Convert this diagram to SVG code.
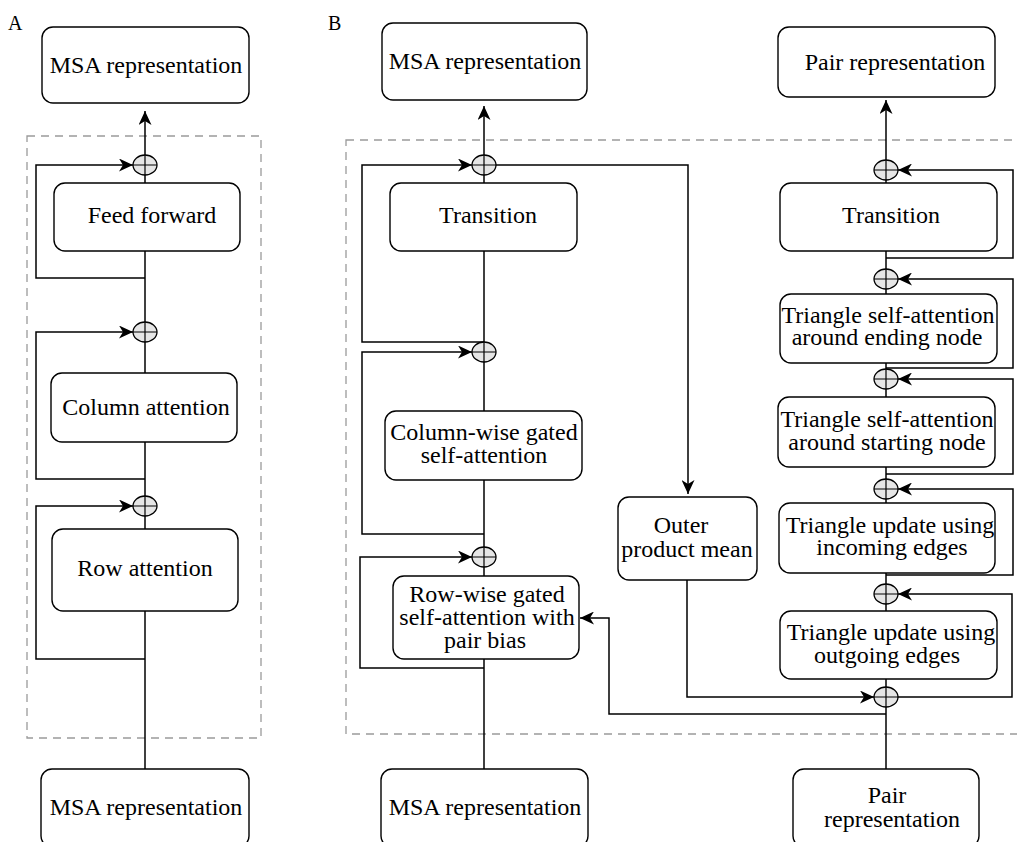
<svg xmlns="http://www.w3.org/2000/svg" width="1017" height="842" viewBox="0 0 1017 842">
  <style>
    .box { fill: #ffffff; stroke: #000000; stroke-width: 1.4; }
    .sum { fill: #e6e6e6; stroke: #000000; stroke-width: 1.3; }
    .cross { stroke: #000000; stroke-width: 1.2; fill: none; }
    .wire { fill: none; stroke: #000000; stroke-width: 1.5; }
    .frame { fill: none; stroke: #9a9a9a; stroke-width: 1.3; stroke-dasharray: 8 6; }
    text { font-family: "Liberation Serif", "Times New Roman", serif; font-size: 24px; fill: #000000; text-anchor: middle; }
    .panel { font-size: 20px; text-anchor: start; }
  </style>
  <defs>
    <marker id="arrow" markerUnits="userSpaceOnUse" markerWidth="15" markerHeight="13" refX="14" refY="6.5" orient="auto">
      <path d="M0,0 L14,6.5 L0,13 L4,6.5 Z" fill="#000000"/>
    </marker>
    <g id="plus">
      <ellipse class="sum" cx="0" cy="0" rx="12" ry="10"/>
      <path class="cross" d="M-12,0 H12 M0,-10 V10"/>
    </g>
  </defs>

  <!-- panel letters -->
  <text class="panel" x="8" y="30">A</text>
  <text class="panel" x="328" y="30">B</text>

  <!-- dashed block outlines -->
  <rect class="frame" x="27" y="136" width="234" height="602"/>
  <rect class="frame" x="346" y="140" width="690" height="594"/>

  <!-- connectors -->
  <g id="connectors">
    <!-- A: residual trunk -->
    <path class="wire" d="M145,769 V165"/>
    <path class="wire" d="M145,155 V111" marker-end="url(#arrow)"/>
    <path class="wire" d="M145,278 H36 V165 H133" marker-end="url(#arrow)"/>
    <path class="wire" d="M145,479 H36 V332 H133" marker-end="url(#arrow)"/>
    <path class="wire" d="M145,659 H36 V506 H133" marker-end="url(#arrow)"/>

    <!-- B: MSA trunk -->
    <path class="wire" d="M484,769 V165"/>
    <path class="wire" d="M484,155 V106" marker-end="url(#arrow)"/>
    <path class="wire" d="M484,342 H362 V165 H472" marker-end="url(#arrow)"/>
    <path class="wire" d="M484,534 H362 V352 H472" marker-end="url(#arrow)"/>
    <path class="wire" d="M484,668 H360 V557 H472" marker-end="url(#arrow)"/>

    <!-- B: MSA to outer product mean to pair -->
    <path class="wire" d="M496,165 H688 V494" marker-end="url(#arrow)"/>
    <path class="wire" d="M687,580 V697 H874" marker-end="url(#arrow)"/>

    <!-- B: pair bias into row-wise attention -->
    <path class="wire" d="M886,714 H609 V618 H580" marker-end="url(#arrow)"/>

    <!-- B: pair trunk -->
    <path class="wire" d="M886,769 V170"/>
    <path class="wire" d="M886,160 V100" marker-end="url(#arrow)"/>
    <path class="wire" d="M886,258 H1013 V170 H898" marker-end="url(#arrow)"/>
    <path class="wire" d="M886,368 H1013 V279 H898" marker-end="url(#arrow)"/>
    <path class="wire" d="M886,474 H1013 V379 H898" marker-end="url(#arrow)"/>
    <path class="wire" d="M886,575 H1013 V489 H898" marker-end="url(#arrow)"/>
    <path class="wire" d="M898,697 H1012 V594 H898" marker-end="url(#arrow)"/>
  </g>

  <!-- A nodes -->
  <g id="a-msa-out">
    <rect class="box" x="42" y="27" width="207" height="76" rx="11"/>
    <text x="146" y="73">MSA representation</text>
  </g>
  <g id="a-feed-forward">
    <rect class="box" x="54" y="183" width="186" height="68" rx="11"/>
    <text x="152" y="223">Feed forward</text>
  </g>
  <g id="a-column-attention">
    <rect class="box" x="51" y="373" width="186" height="69" rx="11"/>
    <text x="146" y="415">Column attention</text>
  </g>
  <g id="a-row-attention">
    <rect class="box" x="52" y="529" width="186" height="82" rx="11"/>
    <text x="145" y="576">Row attention</text>
  </g>
  <g id="a-msa-in">
    <rect class="box" x="41" y="769" width="208" height="78" rx="11"/>
    <text x="146" y="815">MSA representation</text>
  </g>
  <g id="a-sum-1"><use href="#plus" x="145" y="165"/></g>
  <g id="a-sum-2"><use href="#plus" x="145" y="332"/></g>
  <g id="a-sum-3"><use href="#plus" x="145" y="506"/></g>

  <!-- B MSA column -->
  <g id="b-msa-out">
    <rect class="box" x="382" y="23" width="205" height="77" rx="11"/>
    <text x="485" y="69">MSA representation</text>
  </g>
  <g id="b-msa-transition">
    <rect class="box" x="390" y="183" width="187" height="68" rx="11"/>
    <text x="488" y="223">Transition</text>
  </g>
  <g id="b-column-gated">
    <rect class="box" x="385" y="411" width="197" height="69" rx="11"/>
    <text x="484" y="440">Column-wise gated</text>
    <text x="484" y="463">self-attention</text>
  </g>
  <g id="b-row-gated">
    <rect class="box" x="393" y="576" width="186" height="83" rx="11"/>
    <text x="487" y="602">Row-wise gated</text>
    <text x="487" y="625">self-attention with</text>
    <text x="485" y="648">pair bias</text>
  </g>
  <g id="b-msa-in">
    <rect class="box" x="381" y="769" width="207" height="78" rx="11"/>
    <text x="485" y="815">MSA representation</text>
  </g>
  <g id="b-sum-1"><use href="#plus" x="484" y="165"/></g>
  <g id="b-sum-2"><use href="#plus" x="484" y="352"/></g>
  <g id="b-sum-3"><use href="#plus" x="484" y="557"/></g>

  <!-- B outer product mean -->
  <g id="b-outer-product">
    <rect class="box" x="618" y="497" width="139" height="83" rx="11"/>
    <text x="681" y="533">Outer</text>
    <text x="687" y="557">product mean</text>
  </g>

  <!-- B pair column -->
  <g id="b-pair-out">
    <rect class="box" x="778" y="27" width="217" height="70" rx="11"/>
    <text x="895" y="70">Pair representation</text>
  </g>
  <g id="b-pair-transition">
    <rect class="box" x="780" y="183" width="217" height="68" rx="11"/>
    <text x="891" y="223">Transition</text>
  </g>
  <g id="b-tri-att-end">
    <rect class="box" x="780" y="294" width="217" height="69" rx="11"/>
    <text x="888" y="323">Triangle self-attention</text>
    <text x="887" y="345">around ending node</text>
  </g>
  <g id="b-tri-att-start">
    <rect class="box" x="778" y="397" width="217" height="70" rx="11"/>
    <text x="887" y="427">Triangle self-attention</text>
    <text x="887" y="450">around starting node</text>
  </g>
  <g id="b-tri-mul-in">
    <rect class="box" x="779" y="503" width="216" height="70" rx="11"/>
    <text x="890" y="533">Triangle update using</text>
    <text x="892" y="555">incoming edges</text>
  </g>
  <g id="b-tri-mul-out">
    <rect class="box" x="780" y="611" width="217" height="68" rx="11"/>
    <text x="891" y="640">Triangle update using</text>
    <text x="887" y="663">outgoing edges</text>
  </g>
  <g id="b-pair-in">
    <rect class="box" x="793" y="769" width="186" height="78" rx="11"/>
    <text x="887" y="803">Pair</text>
    <text x="892" y="827">representation</text>
  </g>
  <g id="b-sum-4"><use href="#plus" x="886" y="170"/></g>
  <g id="b-sum-5"><use href="#plus" x="886" y="279"/></g>
  <g id="b-sum-6"><use href="#plus" x="886" y="379"/></g>
  <g id="b-sum-7"><use href="#plus" x="886" y="489"/></g>
  <g id="b-sum-8"><use href="#plus" x="886" y="594"/></g>
  <g id="b-sum-9"><use href="#plus" x="886" y="697"/></g>
</svg>
